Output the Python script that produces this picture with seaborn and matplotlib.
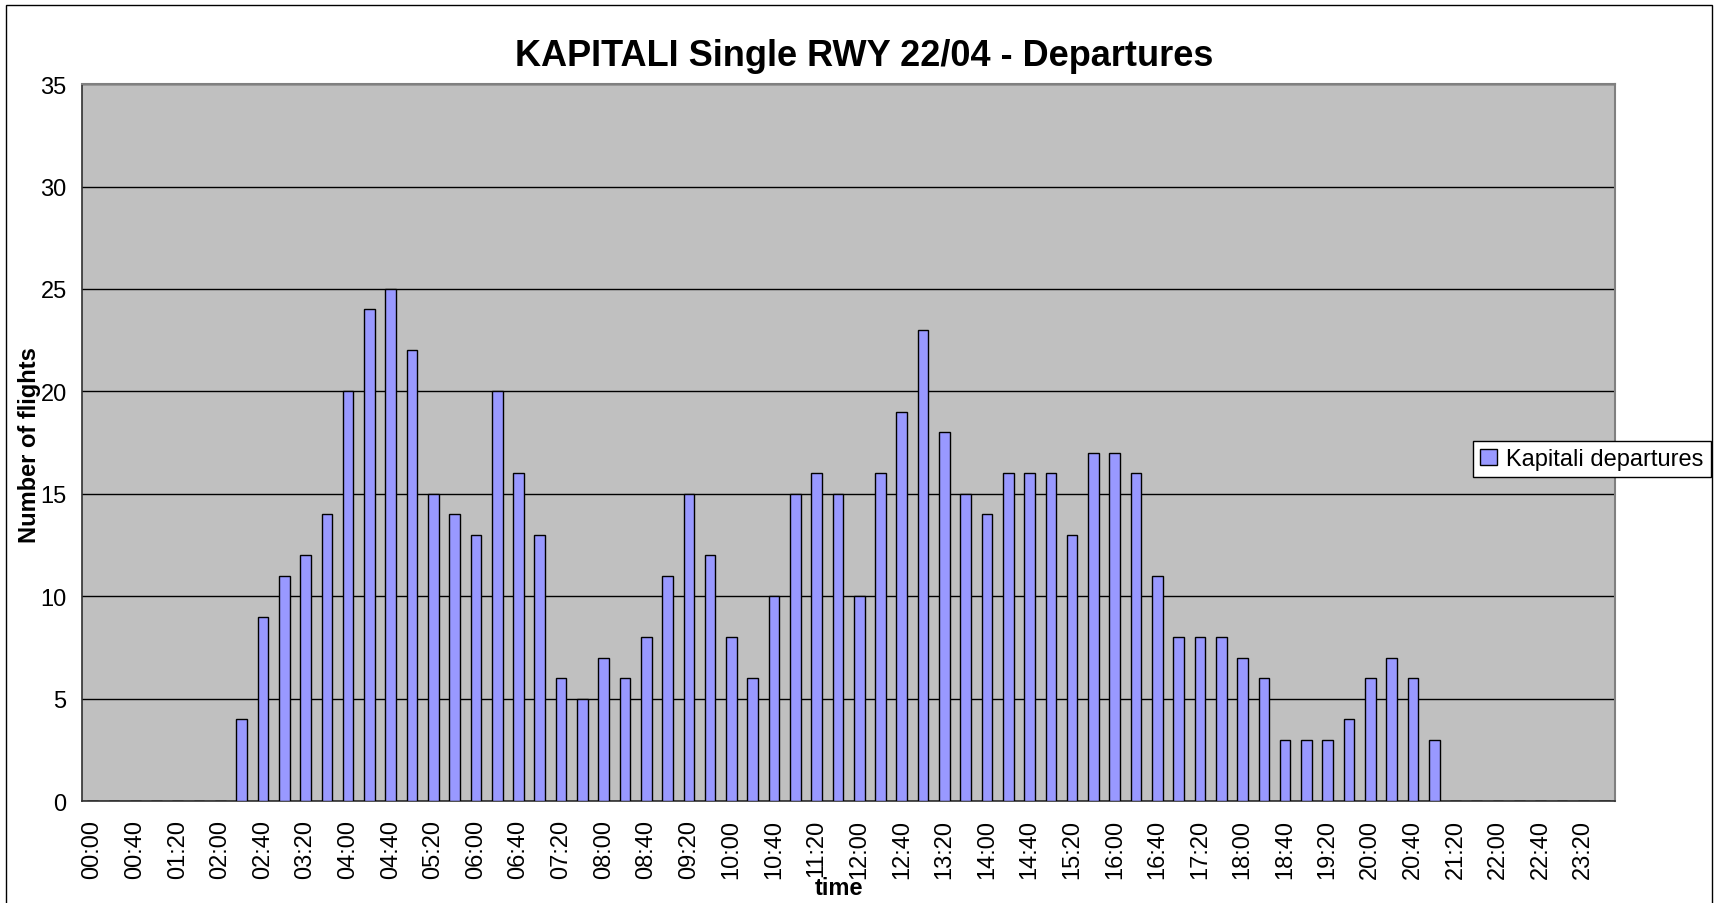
import numpy as np
import pandas as pd
import matplotlib
matplotlib.use('Agg')
import matplotlib.pyplot as plt
from matplotlib.patches import Rectangle
import seaborn as sns

# 20-minute slots over the day
times = ['%02d:%02d' % (h, m) for h in range(24) for m in (0, 20, 40)]

# departures per slot (02:20 .. 21:00), zero elsewhere
departures_active = [4, 9, 11, 12, 14, 20, 24, 25, 22, 15, 14, 13, 20, 16, 13,
                     6, 5, 7, 6, 8, 11, 15, 12, 8, 6, 10, 15, 16, 15, 10,
                     16, 19, 23, 18, 15, 14, 16, 16, 16, 13, 17, 17, 16, 11,
                     8, 8, 8, 7, 6, 3, 3, 3, 4, 6, 7, 6, 3]
departures = [0] * 7 + departures_active + [0] * 8

yticks = [0, 5, 10, 15, 20, 25, 30, 35]

df = pd.DataFrame({'time': times, 'Kapitali departures': departures})

sns.set_style('white')
plt.rcParams['font.family'] = ['Liberation Sans', 'DejaVu Sans']
plt.rcParams['text.color'] = 'black'
plt.rcParams['axes.labelcolor'] = 'black'
plt.rcParams['xtick.color'] = 'black'
plt.rcParams['ytick.color'] = 'black'

fig = plt.figure(figsize=(17.15, 9.04), dpi=100)
ax = fig.add_axes([0.0478, 0.1128, 0.894, 0.793])
ax.set_facecolor('#C0C0C0')

sns.barplot(data=df, x='time', y='Kapitali departures', order=times,
            color='#9999FF', edgecolor='black', linewidth=1, width=0.5,
            saturation=1, label='Kapitali departures', ax=ax, zorder=3)

ax.set_xlim(-0.5, len(times) - 0.5)
ax.set_ylim(0, 35)
ax.set_yticks(yticks)
ax.yaxis.grid(True, color='black', linewidth=1)
ax.set_axisbelow(True)

# labels every 40 minutes, tick marks between categories
ax.set_xticks(np.arange(0, len(times), 2))
ax.set_xticklabels(times[::2], rotation=90)
ax.set_xticks(np.arange(-0.5, len(times), 1), minor=True)
ax.tick_params(axis='x', which='major', length=0, pad=13, labelsize=17)
ax.tick_params(axis='x', which='minor', length=7, width=1, color='black', direction='out')
ax.tick_params(axis='y', length=7, width=1, color='black', direction='out', labelsize=17, pad=4)

for s in ['left', 'bottom']:
    ax.spines[s].set_color('#303030')
    ax.spines[s].set_linewidth(1.2)
for s in ['top', 'right']:
    ax.spines[s].set_color('#808080')
    ax.spines[s].set_linewidth(1.5)

ax.set_xlabel('time', fontsize=17, fontweight='bold')
ax.set_ylabel('Number of flights', fontsize=17, fontweight='bold')
ax.xaxis.set_label_coords(0.494, -0.104)
ax.yaxis.set_label_coords(-0.027, 0.498)

fig.text(0.504, 0.937, 'KAPITALI Single RWY 22/04 - Departures',
         ha='center', va='center', fontsize=26, fontweight='bold')

leg = ax.legend(loc='center left', bbox_to_anchor=(0.859, 0.491),
                bbox_transform=fig.transFigure, fontsize=17, frameon=True,
                fancybox=False, handlelength=0.7, handleheight=0.7,
                handletextpad=0.4, borderpad=0.3, borderaxespad=0)
leg.get_frame().set_edgecolor('black')
leg.get_frame().set_linewidth(1)
leg.get_frame().set_alpha(1)

fig.patches.append(Rectangle((6 / 1715, -0.01), 1706 / 1715, 1.01 - 6 / 904,
                             transform=fig.transFigure, fill=False,
                             edgecolor='black', linewidth=1))

fig.savefig('out.png', dpi=100)
